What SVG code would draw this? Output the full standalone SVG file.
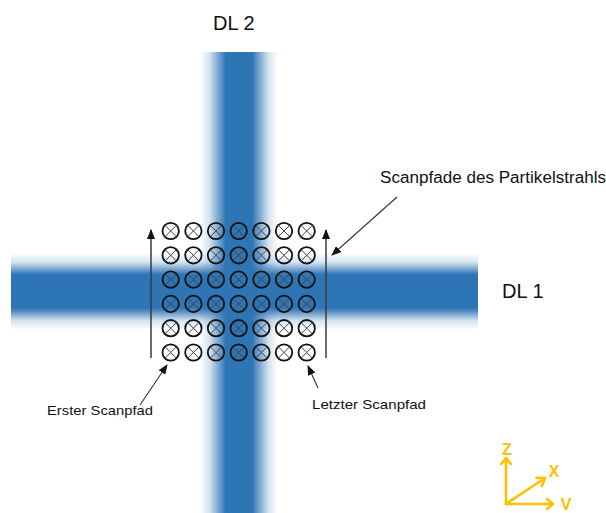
<svg xmlns="http://www.w3.org/2000/svg" xmlns:xlink="http://www.w3.org/1999/xlink" width="606" height="513" viewBox="0 0 606 513">
<style>
text{font-family:"Liberation Sans",Arial,sans-serif;fill:#111}
.lbl{font-size:13.5px}
.dl{font-size:20px}
.ax{font-size:16px;fill:#FFC000;font-weight:bold;text-anchor:middle}
.scan{stroke:#3a3a3a;stroke-width:1.5;fill:none}
.ann{stroke:#333;stroke-width:1.1;fill:none}
.axis{stroke:#FFC000;stroke-width:2.6;fill:none;stroke-linecap:round;stroke-linejoin:round}
.cc{fill:none;stroke:#111;stroke-width:1.8}
.cx{stroke:#444;stroke-width:1}
</style>
<defs>
<linearGradient id="gv" x1="0" y1="0" x2="1" y2="0">
<stop offset="0" stop-color="#2E75B6" stop-opacity="0"/>
<stop offset="0.12" stop-color="#2E75B6" stop-opacity="0.2"/>
<stop offset="0.28" stop-color="#2E75B6" stop-opacity="0.8"/>
<stop offset="0.33" stop-color="#2E75B6" stop-opacity="1"/>
<stop offset="0.67" stop-color="#2E75B6" stop-opacity="1"/>
<stop offset="0.72" stop-color="#2E75B6" stop-opacity="0.8"/>
<stop offset="0.88" stop-color="#2E75B6" stop-opacity="0.2"/>
<stop offset="1" stop-color="#2E75B6" stop-opacity="0"/>
</linearGradient>
<linearGradient id="gh" x1="0" y1="0" x2="0" y2="1">
<stop offset="0" stop-color="#2E75B6" stop-opacity="0"/>
<stop offset="0.12" stop-color="#2E75B6" stop-opacity="0.2"/>
<stop offset="0.24" stop-color="#2E75B6" stop-opacity="0.8"/>
<stop offset="0.28" stop-color="#2E75B6" stop-opacity="1"/>
<stop offset="0.71" stop-color="#2E75B6" stop-opacity="1"/>
<stop offset="0.76" stop-color="#2E75B6" stop-opacity="0.8"/>
<stop offset="0.88" stop-color="#2E75B6" stop-opacity="0.2"/>
<stop offset="1" stop-color="#2E75B6" stop-opacity="0"/>
</linearGradient>
<marker id="ah" markerUnits="userSpaceOnUse" markerWidth="10" markerHeight="8" refX="9" refY="4" orient="auto">
<path d="M0,0 L10,4 L0,8 z" fill="#111"/>
</marker>
<g id="c">
<circle r="8.2" class="cc"/>
<path d="M-5.7,-5.7 L5.7,5.7 M-5.7,5.7 L5.7,-5.7" class="cx"/>
</g>
</defs>
<rect width="606" height="513" fill="#fff"/>
<g id="beam-dl2"><rect x="200" y="52" width="78" height="461" fill="url(#gv)"/></g>
<g id="beam-dl1"><rect x="11" y="253" width="467" height="77" fill="url(#gh)"/></g>
<g id="scan-grid">
<use xlink:href="#c" x="170.7" y="231"/><use xlink:href="#c" x="193.4" y="231"/><use xlink:href="#c" x="216" y="231"/><use xlink:href="#c" x="238.7" y="231"/><use xlink:href="#c" x="261.4" y="231"/><use xlink:href="#c" x="284" y="231"/><use xlink:href="#c" x="306.7" y="231"/>
<use xlink:href="#c" x="170.7" y="255.3"/><use xlink:href="#c" x="193.4" y="255.3"/><use xlink:href="#c" x="216" y="255.3"/><use xlink:href="#c" x="238.7" y="255.3"/><use xlink:href="#c" x="261.4" y="255.3"/><use xlink:href="#c" x="284" y="255.3"/><use xlink:href="#c" x="306.7" y="255.3"/>
<use xlink:href="#c" x="170.7" y="279.6"/><use xlink:href="#c" x="193.4" y="279.6"/><use xlink:href="#c" x="216" y="279.6"/><use xlink:href="#c" x="238.7" y="279.6"/><use xlink:href="#c" x="261.4" y="279.6"/><use xlink:href="#c" x="284" y="279.6"/><use xlink:href="#c" x="306.7" y="279.6"/>
<use xlink:href="#c" x="170.7" y="303.9"/><use xlink:href="#c" x="193.4" y="303.9"/><use xlink:href="#c" x="216" y="303.9"/><use xlink:href="#c" x="238.7" y="303.9"/><use xlink:href="#c" x="261.4" y="303.9"/><use xlink:href="#c" x="284" y="303.9"/><use xlink:href="#c" x="306.7" y="303.9"/>
<use xlink:href="#c" x="170.7" y="328.2"/><use xlink:href="#c" x="193.4" y="328.2"/><use xlink:href="#c" x="216" y="328.2"/><use xlink:href="#c" x="238.7" y="328.2"/><use xlink:href="#c" x="261.4" y="328.2"/><use xlink:href="#c" x="284" y="328.2"/><use xlink:href="#c" x="306.7" y="328.2"/>
<use xlink:href="#c" x="170.7" y="352.5"/><use xlink:href="#c" x="193.4" y="352.5"/><use xlink:href="#c" x="216" y="352.5"/><use xlink:href="#c" x="238.7" y="352.5"/><use xlink:href="#c" x="261.4" y="352.5"/><use xlink:href="#c" x="284" y="352.5"/><use xlink:href="#c" x="306.7" y="352.5"/>
</g>
<g id="connectors">
<line x1="151" y1="358" x2="151" y2="230" class="scan" marker-end="url(#ah)"/>
<line x1="326" y1="358" x2="326" y2="230" class="scan" marker-end="url(#ah)"/>
<line x1="397" y1="197" x2="332" y2="255" class="ann" marker-end="url(#ah)"/>
<line x1="140" y1="405" x2="167" y2="365" class="ann" marker-end="url(#ah)"/>
<line x1="318" y1="388" x2="308" y2="366" class="ann" marker-end="url(#ah)"/>
</g>
<g id="label-dl2"><text x="213" y="30" class="dl">DL 2</text></g>
<g id="label-dl1"><text x="502" y="298" class="dl">DL 1</text></g>
<g id="label-scanpfade"><text x="380" y="183" style="font-size:16px" textLength="226" lengthAdjust="spacingAndGlyphs">Scanpfade des Partikelstrahls</text></g>
<g id="label-erster"><text x="47" y="415" class="lbl" textLength="106" lengthAdjust="spacingAndGlyphs">Erster Scanpfad</text></g>
<g id="label-letzter"><text x="312" y="409" class="lbl" textLength="114" lengthAdjust="spacingAndGlyphs">Letzter Scanpfad</text></g>
<g id="axes">
<path d="M506,504 L506,458 M501,464 L506,458 L511,464" class="axis"/>
<path d="M506,504 L553,504 M547,499 L553,504 L547,509" class="axis"/>
<path d="M506,504 L545,478 M542,486 L545,478 L536.4,477.7" class="axis"/>
<text x="507" y="455" class="ax">Z</text>
<text x="554" y="477" class="ax">X</text>
<text x="566" y="510" class="ax">V</text>
</g>
</svg>
